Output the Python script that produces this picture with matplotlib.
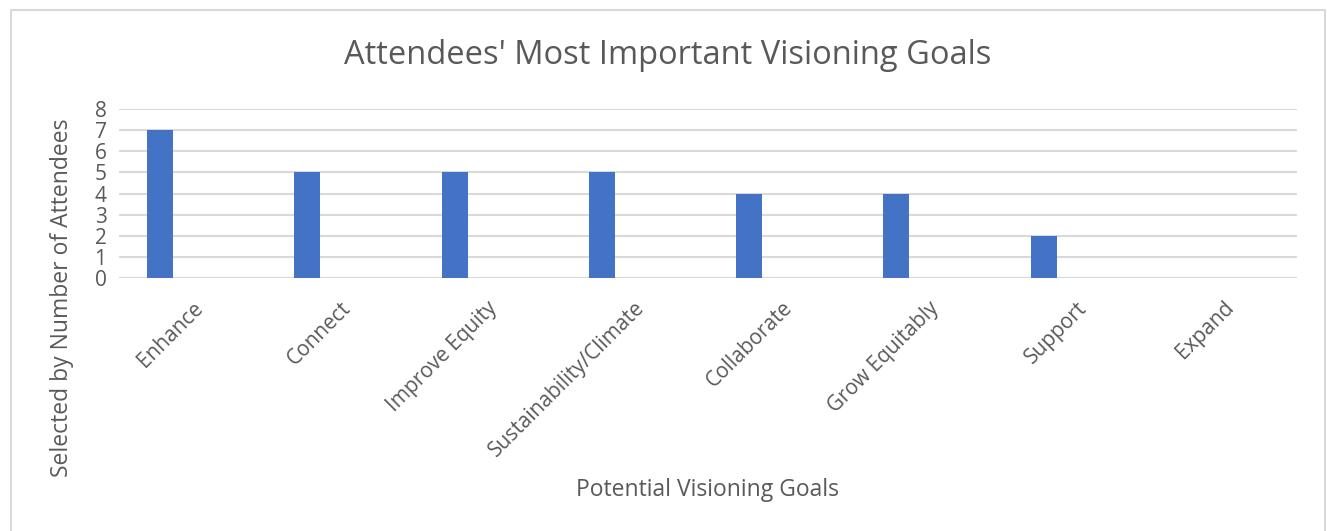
import matplotlib as mpl; mpl.use('agg')
import matplotlib.pyplot as plt
from matplotlib.patches import Rectangle

# data
categories = ["Enhance", "Connect", "Improve Equity", "Sustainability/Climate",
              "Collaborate", "Grow Equitably", "Support", "Expand"]
counts = [7, 5, 5, 5, 4, 4, 2, 0]

BLUE = '#4472C4'
TEXT = '#595959'
GRID = '#D9D9D9'
FONT = 'Open Sans'

W, H = 1327, 531
fig = plt.figure(figsize=(W/100, H/100), dpi=100)
ax = fig.add_axes([119/W, 1 - 278/H, (1297-119)/W, (278-109)/H])

# bars sit left of the category centre (Excel clustered layout)
xs = [i - 0.5 + 41/147.25 for i in range(len(categories))]
ax.bar(xs, counts, width=26/147.25, color=BLUE, zorder=3)

ax.set_xlim(-0.5, len(categories) - 0.5)
ax.set_ylim(0, 8)
ax.set_yticks(range(0, 9))
ax.set_xticks(range(len(categories)))
ax.set_xticklabels(categories, rotation=45, ha='right', rotation_mode='anchor',
                   fontsize=15, color=TEXT, family=FONT)
for lab in ax.get_yticklabels():
    lab.set_fontsize(15); lab.set_color(TEXT); lab.set_family(FONT)
ax.tick_params(axis='both', length=0)
ax.tick_params(axis='y', pad=9)
ax.tick_params(axis='x', pad=14)
ax.grid(axis='y', color=GRID, linewidth=1.5, zorder=0)
for s in ax.spines.values():
    s.set_visible(False)
ax.axhline(0, color=GRID, linewidth=1.5, zorder=2)

fig.text(668/W, 1 - 55/H, "Attendees' Most Important Visioning Goals",
         ha='center', va='center', fontsize=23.5, color=TEXT, family=FONT)
fig.text(62/W, 1 - 298/H, "Selected by Number of Attendees", rotation=90,
         ha='center', va='center', fontsize=16.5, color=TEXT, family=FONT)
fig.text(708/W, 1 - 490/H, "Potential Visioning Goals",
         ha='center', va='center', fontsize=16.5, color=TEXT, family=FONT)

# chart frame
fig.add_artist(Rectangle((11/W, -0.01), (1325-11)/W, 1.01 - 10/H,
                         transform=fig.transFigure, fill=False,
                         edgecolor=GRID, linewidth=1.5))

fig.savefig('out.png', dpi=100)
